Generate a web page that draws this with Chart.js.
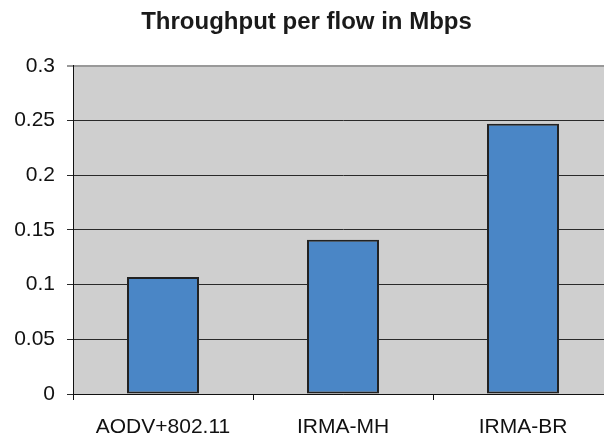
<!DOCTYPE html>
<html>
<head>
<meta charset="utf-8">
<script src="https://cdn.jsdelivr.net/npm/chart.js@4/dist/chart.umd.min.js"></script>
<style>
  html, body { margin: 0; padding: 0; background: #ffffff; overflow: hidden; }
  #wrap { width: 620px; height: 441px; }
</style>
</head>
<body>
<div id="wrap"><canvas id="c" width="620" height="441"></canvas></div>
<script>
// Throughput per flow (Mbps) for each protocol
const categories = ['AODV+802.11', 'IRMA-MH', 'IRMA-BR'];
const throughput = [0.107, 0.141, 0.247];
const yTickValues = [0, 0.05, 0.1, 0.15, 0.2, 0.25, 0.3];
const yTickLabels = ['0', '0.05', '0.1', '0.15', '0.2', '0.25', '0.3'];

const FONT = '"Liberation Sans", Arial, sans-serif';

// Gray plot-area fill behind the bars
const plotBackground = {
  id: 'plotBackground',
  beforeDraw(chart) {
    const { ctx, chartArea: a } = chart;
    ctx.save();
    ctx.fillStyle = '#cfcfcf';
    ctx.fillRect(a.left, a.top, a.right - a.left, a.bottom - a.top);
    ctx.restore();
  }
};

new Chart(document.getElementById('c'), {
  type: 'bar',
  data: {
    labels: categories,
    datasets: [{
      data: throughput,
      backgroundColor: '#4a86c6',
      borderColor: '#222222',
      borderWidth: 2,
      borderSkipped: false,
      barPercentage: 0.4,
      categoryPercentage: 1.0
    }]
  },
  options: {
    responsive: false,
    animation: false,
    layout: { padding: { left: 0, right: 7, top: 0, bottom: 0 } },
    plugins: {
      legend: { display: false },
      tooltip: { enabled: false },
      title: {
        display: true,
        text: 'Throughput per flow in Mbps',
        color: '#1a1a1a',
        font: { family: FONT, size: 24, weight: 'bold' },
        padding: { top: 8, bottom: 29 }
      }
    },
    scales: {
      x: {
        grid: {
          offset: true,
          drawOnChartArea: false,
          drawTicks: true,
          tickLength: 6,
          color: '#111111'
        },
        border: { display: true, color: '#111111', width: 1 },
        ticks: {
          color: '#111111',
          font: { family: FONT, size: 21 },
          padding: 15,
          maxRotation: 0
        },
        afterFit(scale) { scale.height = 47; }
      },
      y: {
        min: 0,
        max: 0.3,
        afterBuildTicks(scale) {
          scale.ticks = yTickValues.map(v => ({ value: v }));
        },
        grid: {
          drawTicks: true,
          tickLength: 6,
          color: ctx => (ctx.tick && ctx.tick.value === 0.3) ? '#999999' : '#2a2a2a',
          lineWidth: ctx => (ctx.tick && ctx.tick.value === 0.3) ? 2 : 1
        },
        border: { display: true, color: '#111111', width: 1 },
        ticks: {
          color: '#111111',
          font: { family: FONT, size: 21 },
          padding: 12,
          callback: (v, i) => yTickLabels[i]
        },
        afterFit(scale) { scale.width = 73; }
      }
    }
  },
  plugins: [plotBackground]
});
</script>
</body>
</html>
